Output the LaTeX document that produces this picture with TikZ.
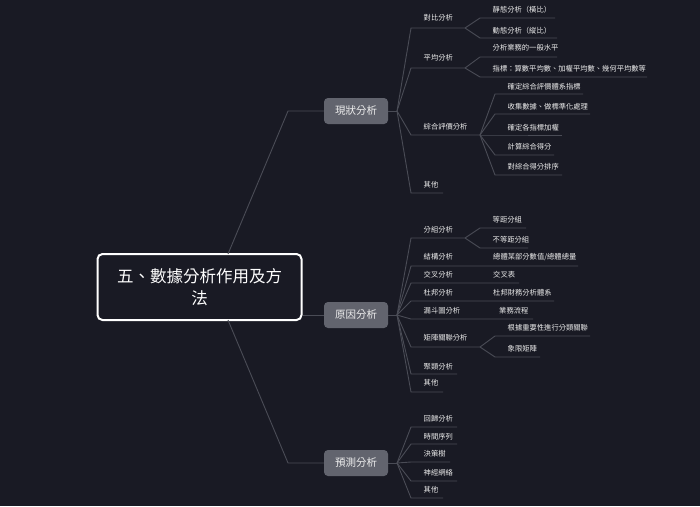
\documentclass[tikz,border=0pt]{standalone}
\usepackage{fontspec}
\setmainfont{Noto Sans CJK TC}
\definecolor{bg}{HTML}{191A24}
\definecolor{lncol}{HTML}{4A4C56}
\definecolor{boxfill}{HTML}{62646E}
\definecolor{txt}{HTML}{EDEDED}
\tikzset{
  ln/.style={draw=lncol, line width=0.9pt},
  lbl/.style={anchor=west, inner sep=0pt, text=txt, font=\fontsize{7.3}{8}\selectfont},
  topic/.style={fill=boxfill, rounded corners=4pt, minimum width=64pt, minimum height=26pt, inner sep=0pt, text=txt, font=\fontsize{10.5}{12}\selectfont},
  rootbox/.style={draw=white, line width=2pt, fill=bg, rounded corners=5pt, minimum width=204pt, minimum height=66pt, align=center, text=white, font=\fontsize{16.5}{22}\selectfont}
}
% name, from, xstart, xend, yline, ytext, text
\newcommand\mmbr[7]{%
  \coordinate (#1s) at (#3,#5);
  \coordinate (#1e) at (#4,#5);
  \node[lbl] (#1) at ([xshift=12.5pt]#3,#6) {#7};
  \draw[ln] (#2) -- (#1s) -- (#1e);
}
\begin{document}
\begin{tikzpicture}[x=1pt,y=-1pt]
\useasboundingbox[fill=bg] (0,0) rectangle (700,506);

% root and topics
\node[rootbox] (root) at (199.5,287) {五、數據分析作用及方\\法};
\node[topic] (pA) at (356,111) {現狀分析};
\node[topic] (pB) at (356,315) {原因分析};
\node[topic] (pC) at (356,463) {預測分析};

\coordinate (rt) at (228,254);
\coordinate (rb) at (228,320);
\coordinate (kA) at (288,111);
\coordinate (kC) at (288,463);
\draw[ln] (rt) -- (kA) -- (pA.west);
\draw[ln] (root.east |- pB.west) -- (pB.west);
\draw[ln] (rb) -- (kC) -- (pC.west);

\coordinate (fA) at (397,111);
\coordinate (fB) at (397,315);
\coordinate (fC) at (397,463);
\draw[ln] (pA.east) -- (fA);
\draw[ln] (pB.east) -- (fB);
\draw[ln] (pC.east) -- (fC);

% group A
\mmbr{aa}{fA}{411}{465}{28}{18}{對比分析}
\mmbr{aaa}{aae}{480}{555}{18}{10}{靜態分析（橫比）}
\mmbr{aab}{aae}{480}{557}{38}{31}{動態分析（縱比）}
\mmbr{ab}{fA}{411}{465}{68}{58}{平均分析}
\mmbr{aba}{abe}{480}{557}{57}{48}{分析業務的一般水平}
\mmbr{abb}{abe}{480}{647}{77}{69}{指標：算數平均數、加權平均數、幾何平均數等}
\mmbr{ac}{fA}{411}{480}{135}{127}{綜合評價分析}
\mmbr{aca}{ace}{495}{583}{94}{87}{確定綜合評價體系指標}
\mmbr{acb}{ace}{495}{590}{114}{107}{收集數據、做標準化處理}
\mmbr{acc}{ace}{495}{562}{135}{128}{確定各指標加權}
\mmbr{acd}{ace}{495}{554}{155}{147}{計算綜合得分}
\mmbr{acf}{ace}{495}{562}{175}{167}{對綜合得分排序}
\mmbr{ad}{fA}{411}{443}{193}{185}{其他}

% group B
\mmbr{ba}{fB}{411}{465}{238}{230}{分組分析}
\mmbr{baa}{bae}{480}{526}{228}{220}{等距分組}
\mmbr{bab}{bae}{480}{528}{248}{240}{不等距分組}
\mmbr{bb}{fB}{411}{578}{266}{257}{結構分析}
\node[lbl] (bbc) at (493,257) {總體某部分數值/總體總量};
\mmbr{bc}{fB}{411}{519}{283}{275}{交叉分析}
\node[lbl] (bcc) at (493,275) {交叉表};
\mmbr{bd}{fB}{411}{554}{301}{293}{杜邦分析}
\node[lbl] (bdc) at (493,293) {杜邦財務分析體系};
\mmbr{bf}{fB}{411}{533}{319}{311}{漏斗圖分析}
\node[lbl] (bfc) at (499,311) {業務流程};
\mmbr{bg}{fB}{411}{480}{347}{338}{矩陣關聯分析}
\mmbr{bga}{bge}{495}{590}{336}{328}{根據重要性進行分類關聯}
\mmbr{bgb}{bge}{495}{540}{357}{349}{象限矩陣}
\mmbr{bh}{fB}{411}{457}{374}{367}{聚類分析}
\mmbr{bi}{fB}{411}{443}{392}{383}{其他}

% group C
\mmbr{ca}{fC}{411}{457}{427}{419}{回歸分析}
\mmbr{cb}{fC}{411}{457}{444}{437}{時間序列}
\mmbr{cc}{fC}{411}{450}{462}{454}{決策樹}
\mmbr{cd}{fC}{411}{457}{481}{473}{神經網絡}
\mmbr{ce}{fC}{411}{443}{498}{490}{其他}
\end{tikzpicture}
\end{document}
